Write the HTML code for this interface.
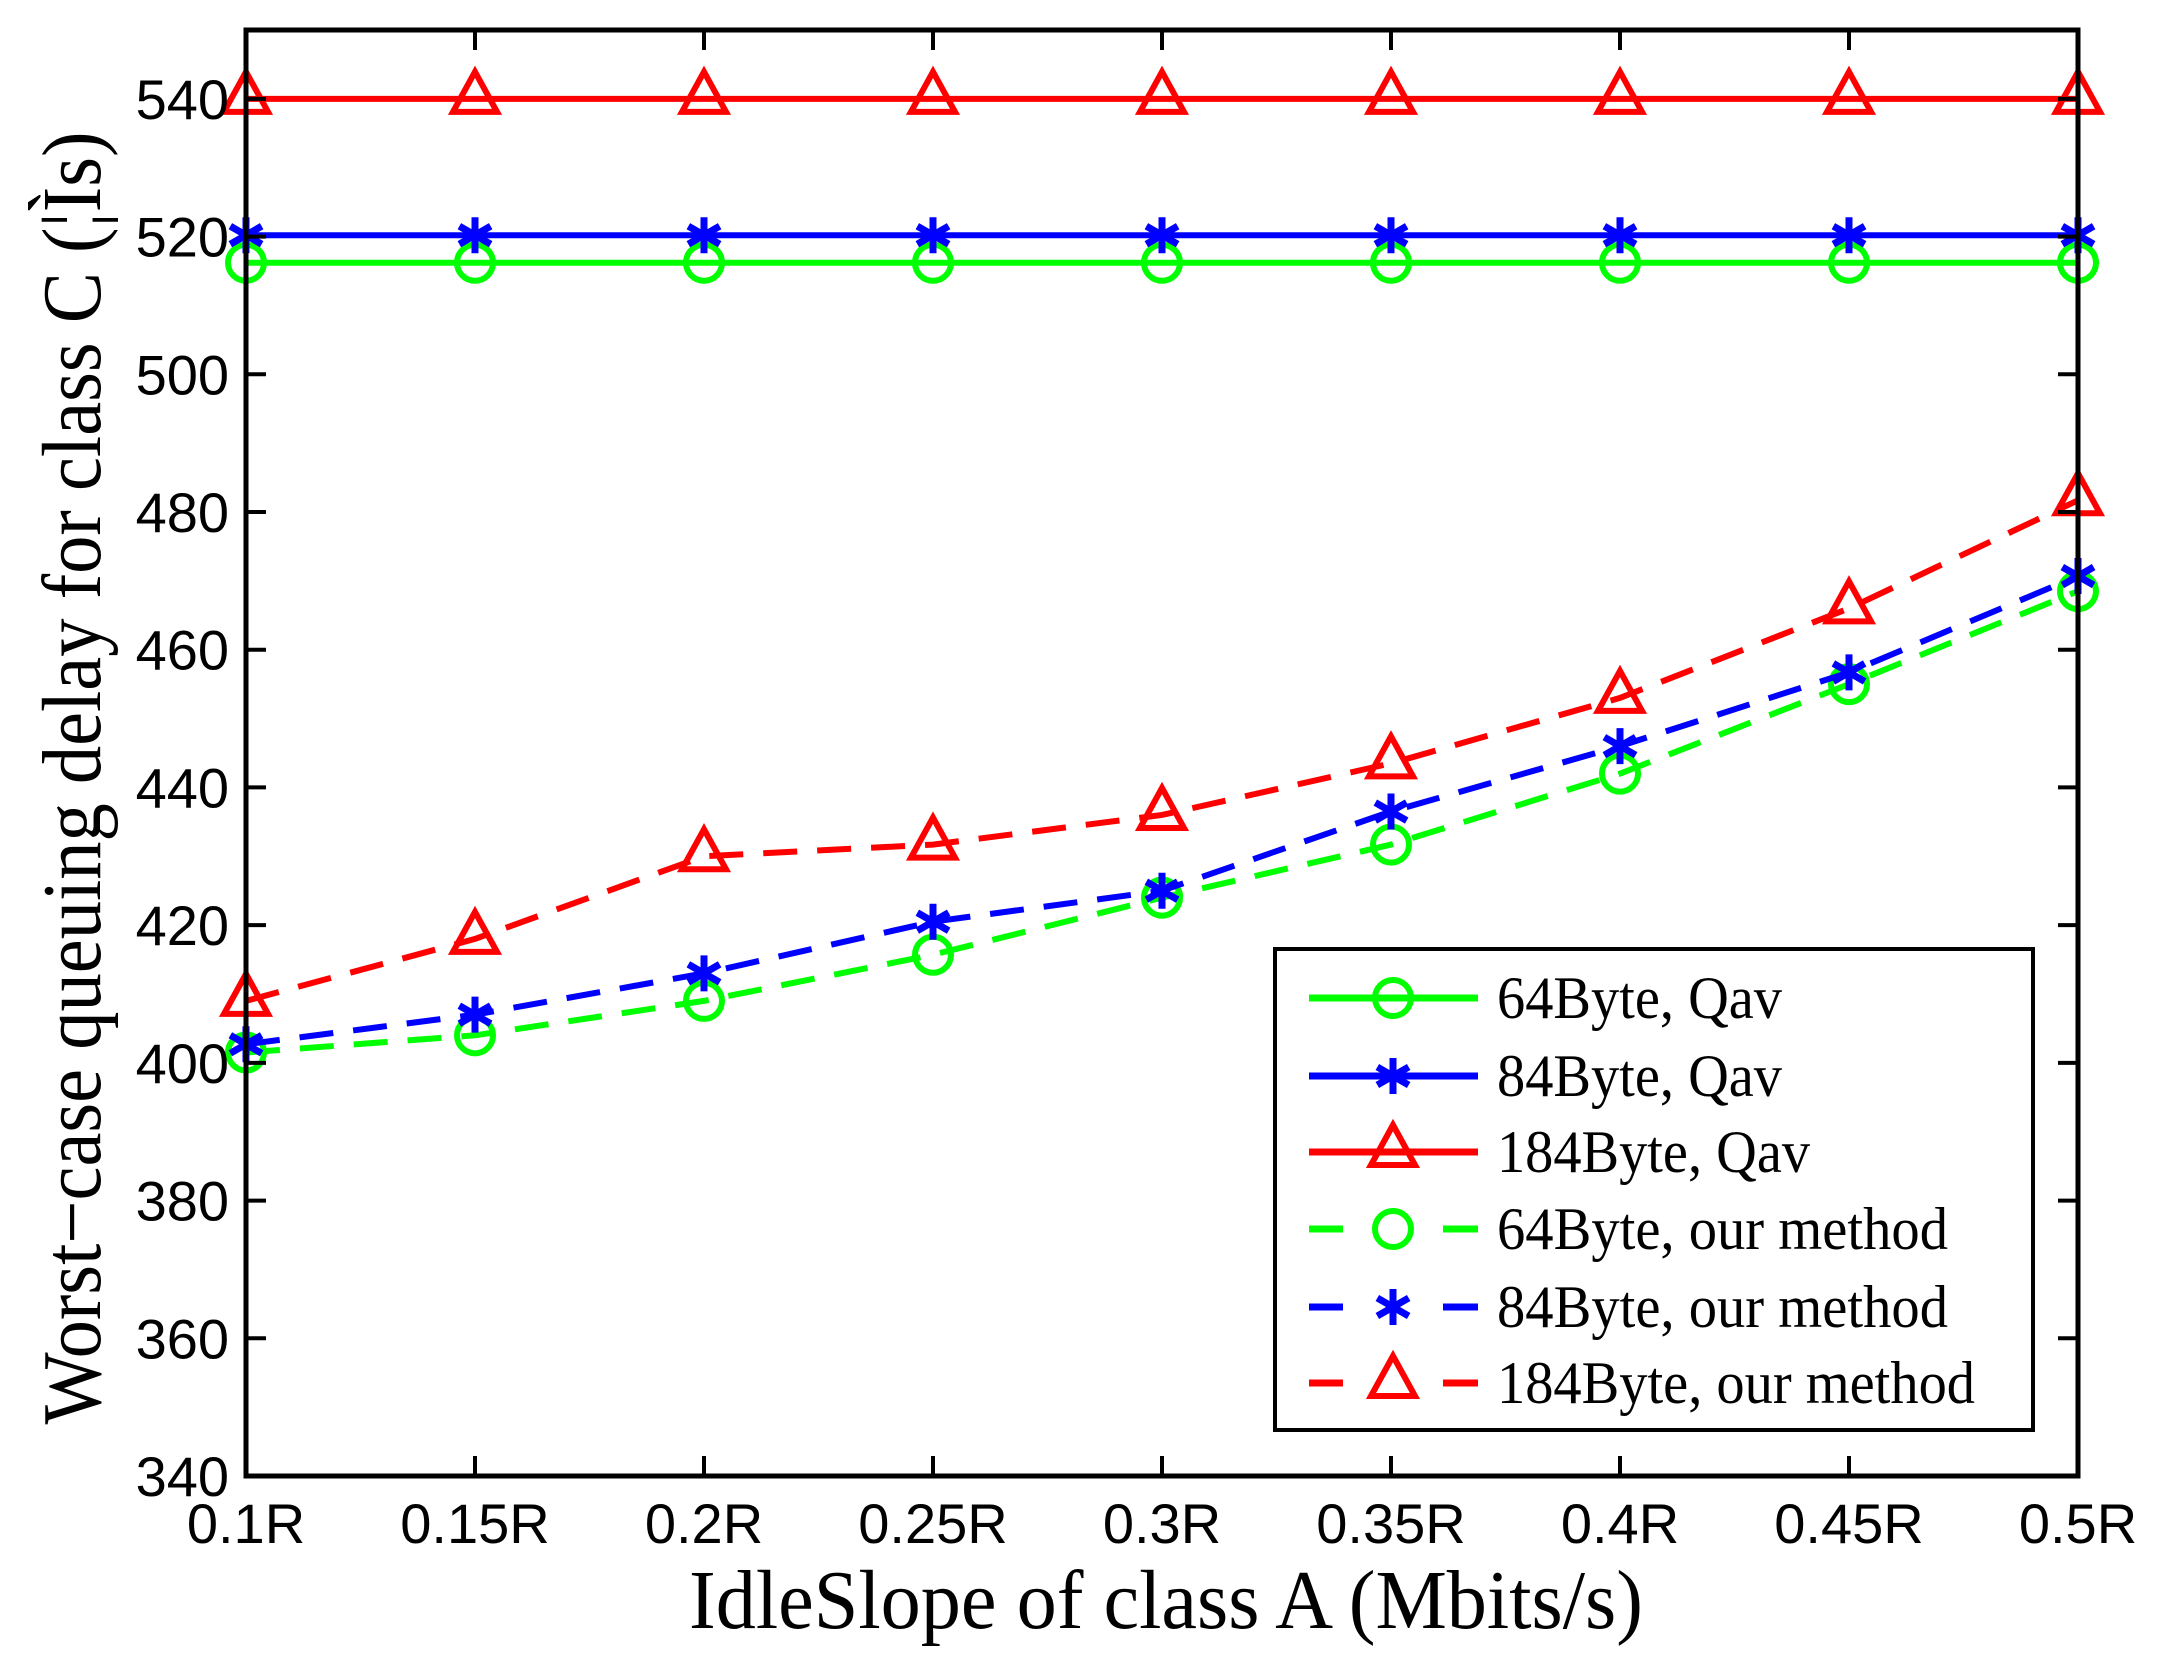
<!DOCTYPE html>
<html><head><meta charset="utf-8"><style>
html,body{margin:0;padding:0;background:#fff;}
svg{display:block;}
.tk{font-family:"Liberation Sans",Arial,sans-serif;font-size:56px;fill:#000;}
.lg{font-family:"Liberation Serif","Times New Roman",serif;font-size:60px;fill:#000;}
.tt{font-family:"Liberation Serif","Times New Roman",serif;fill:#000;}
</style></head><body>
<svg id="chart" width="2160" height="1662" viewBox="0 0 2160 1662" xmlns="http://www.w3.org/2000/svg">
<rect width="2160" height="1662" fill="#fff"/>
<g id="marks"></g>
<rect x="246" y="30" width="1832" height="1446" fill="none" stroke="#000" stroke-width="5"/>
<g id="axes"></g>
<text class="tt" x="1166" y="1628" font-size="84" text-anchor="middle" textLength="954" lengthAdjust="spacingAndGlyphs">IdleSlope of class A (Mbits/s)</text>
<text class="tt" transform="translate(100,778) rotate(-90)" font-size="84" text-anchor="middle" textLength="1293" lengthAdjust="spacingAndGlyphs">Worst−case queuing delay for class C (¦Ìs)</text>
<g id="legend"></g>
</svg>
<script>
const categories = ["0.1R","0.15R","0.2R","0.25R","0.3R","0.35R","0.4R","0.45R","0.5R"];
const yTicks = [340,360,380,400,420,440,460,480,500,520,540];
const qav64 = [516.2,516.2,516.2,516.2,516.2,516.2,516.2,516.2,516.2];
const qav84 = [520.2,520.2,520.2,520.2,520.2,520.2,520.2,520.2,520.2];
const qav184 = [540,540,540,540,540,540,540,540,540];
const our64 = [401.5,404,409,415.7,424,431.7,442,455,468.5];
const our84 = [402.7,407,413,420.5,425,436.5,446,456.7,470.7];
const our184 = [409,418,430,431.7,436,443.5,453,466,481.7];
const seriesNames = ["64Byte, Qav","84Byte, Qav","184Byte, Qav","64Byte, our method","84Byte, our method","184Byte, our method"];

const NS="http://www.w3.org/2000/svg";
const X0=246,X1=2078,Y0=1476,Y1=30,YMIN=340,YMAX=550;
function xs(i){return X0+(X1-X0)*i/(categories.length-1);}
function ys(v){return Y0-(v-YMIN)*(Y0-Y1)/(YMAX-YMIN);}
function mk(tag,attrs,parent){const e=document.createElementNS(NS,tag);for(const k in attrs)e.setAttribute(k,attrs[k]);parent.appendChild(e);return e;}
const axes=document.getElementById('axes'),marks=document.getElementById('marks'),legend=document.getElementById('legend');

categories.forEach((c,i)=>{
  const x=xs(i);
  const t1=mk('line',{x1:x,x2:x,y1:Y0,y2:Y0-20,stroke:'#000','stroke-width':4},axes);
  
  
  const t2=mk('line',{x1:x,x2:x,y1:Y1,y2:Y1+20,stroke:'#000','stroke-width':4},axes);
  
  
  const tx=mk('text',{x:x,y:1543,'text-anchor':'middle',class:'tk'},axes);
  tx.textContent=c;
  
  
});
yTicks.forEach(v=>{
  const y=ys(v);
  const t1=mk('line',{x1:X0,x2:X0+20,y1:y,y2:y,stroke:'#000','stroke-width':4},axes);
  
  
  const t2=mk('line',{x1:X1,x2:X1-20,y1:y,y2:y,stroke:'#000','stroke-width':4},axes);
  
  
  const tx=mk('text',{x:229,y:y+20,'text-anchor':'end',class:'tk'},axes);
  tx.textContent=v;
  
  
});

function marker(type,x,y,color,parent){
  let e;
  if(type==='o'){e=mk('circle',{cx:x,cy:y,r:18,fill:'none',stroke:color,'stroke-width':6},parent);}
  else if(type==='*'){
    e=mk('g',{stroke:color,'stroke-width':7},parent);
    const r=18;
    mk('line',{x1:x,x2:x,y1:y-r,y2:y+r},e);
    mk('line',{x1:x-r*0.87,x2:x+r*0.87,y1:y-r*0.5,y2:y+r*0.5},e);
    mk('line',{x1:x-r*0.87,x2:x+r*0.87,y1:y+r*0.5,y2:y-r*0.5},e);
  } else {
    e=mk('polygon',{points:`${x},${y-27} ${x-22},${y+13} ${x+22},${y+13}`,fill:'none',stroke:color,'stroke-width':6,'stroke-linejoin':'miter'},parent);
  }
  return e;
}
const series=[
 {d:qav64,c:'#00ff00',m:'o',dash:null,n:'series-64byte-qav'},
 {d:qav84,c:'#0000ff',m:'*',dash:null,n:'series-84byte-qav'},
 {d:qav184,c:'#ff0000',m:'^',dash:null,n:'series-184byte-qav'},
 {d:our64,c:'#00ff00',m:'o',dash:'34 20',n:'series-64byte-our-method'},
 {d:our84,c:'#0000ff',m:'*',dash:'34 20',n:'series-84byte-our-method'},
 {d:our184,c:'#ff0000',m:'^',dash:'34 20',n:'series-184byte-our-method'}];
series.forEach(s=>{
  const g=mk('g',{},marks);
  
  
  const pts=s.d.map((v,i)=>xs(i)+','+ys(v)).join(' ');
  const a={points:pts,fill:'none',stroke:s.c,'stroke-width':6};
  if(s.dash)a['stroke-dasharray']=s.dash;
  mk('polyline',a,g);
  s.d.forEach((v,i)=>{
    const m=marker(s.m,xs(i),ys(v),s.c,g);
    
    
  });
});

const lb=mk('rect',{x:1275,y:949,width:758,height:481,fill:'#fff',stroke:'#000','stroke-width':4},legend);


const rowY=[998,1076,1152,1229,1307,1383];
series.forEach((s,i)=>{
  const g=mk('g',{},legend);
  
  
  const y=rowY[i];
  if(s.dash){
    mk('line',{x1:1309,x2:1343,y1:y,y2:y,stroke:s.c,'stroke-width':7},g);
    mk('line',{x1:1443,x2:1478,y1:y,y2:y,stroke:s.c,'stroke-width':7},g);
  } else {
    mk('line',{x1:1309,x2:1478,y1:y,y2:y,stroke:s.c,'stroke-width':7},g);
  }
  marker(s.m,1393,y,s.c,g);
  const t=mk('text',{x:1497,y:y+20,class:'lg'},g);
  t.textContent=seriesNames[i];
  const w=[285,285,313,451,451,478][i];
  t.setAttribute('textLength',w);
  t.setAttribute('lengthAdjust','spacingAndGlyphs');
});
</script>
</body></html>
